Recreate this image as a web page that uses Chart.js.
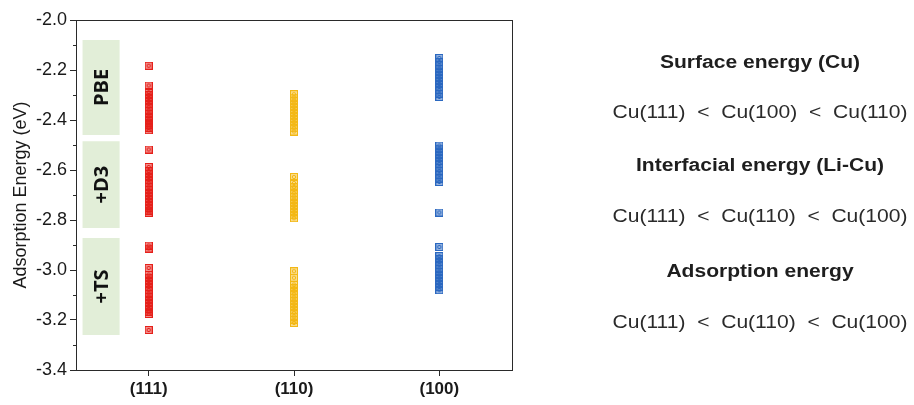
<!DOCTYPE html>
<html>
<head>
<meta charset="utf-8">
<script src="https://cdn.jsdelivr.net/npm/chart.js@4.4.1/dist/chart.umd.min.js"></script>
<style>
  html, body { margin: 0; padding: 0; background: #fff; }
  #wrap { position: relative; width: 914px; height: 405px; overflow: hidden; }
  #chart { position: absolute; left: 0; top: 0; }
  .note {
    position: absolute; left: 560px; width: 400px; text-align: center;
    font-family: "Liberation Sans", Arial, sans-serif; color: #1e1e1e;
    white-space: pre; line-height: 24px; height: 24px;
    transform: scaleX(1.17); transform-origin: 200px 50%;
  }
  .note.head { font-weight: bold; font-size: 18px; }
  .note.rank { font-size: 18px; color: #2a2a2a; }
</style>
</head>
<body>
<div id="wrap">
  <canvas id="chart" width="914" height="405"></canvas>
  <div class="note head" style="top:50px">Surface energy (Cu)</div>
  <div class="note rank" style="top:100px">Cu(111)  &lt;  Cu(100)  &lt;  Cu(110)</div>
  <div class="note head" style="top:153px">Interfacial energy (Li-Cu)</div>
  <div class="note rank" style="top:204px">Cu(111)  &lt;  Cu(110)  &lt;  Cu(100)</div>
  <div class="note head" style="top:259px">Adsorption energy</div>
  <div class="note rank" style="top:310px">Cu(111)  &lt;  Cu(110)  &lt;  Cu(100)</div>
</div>
<script>
// Facets on the x axis
const categories = ['(111)', '(110)', '(100)'];
// Functional labels shown in the green bands
const methods = ['PBE', '+D3', '+TS'];

// Adsorption energies (eV) per facet and functional
const pbe111 = [-2.183, -2.262, -2.289, -2.300, -2.312, -2.325, -2.337, -2.349, -2.362, -2.374, -2.386, -2.398, -2.410, -2.421, -2.432, -2.441];
const d3_111 = [-2.518, -2.588, -2.604, -2.615, -2.628, -2.641, -2.653, -2.666, -2.679, -2.691, -2.703, -2.716, -2.729, -2.741, -2.752, -2.763, -2.771];
const ts111  = [-2.902, -2.914, -2.992, -3.018, -3.031, -3.043, -3.056, -3.068, -3.081, -3.094, -3.106, -3.119, -3.131, -3.144, -3.156, -3.167, -3.176, -3.240];

const pbe110 = [-2.297, -2.310, -2.322, -2.334, -2.347, -2.360, -2.372, -2.385, -2.397, -2.409, -2.421, -2.433, -2.446];
const d3_110 = [-2.628, -2.652, -2.668, -2.680, -2.693, -2.706, -2.718, -2.731, -2.743, -2.756, -2.768, -2.781, -2.793];
const ts110  = [-3.005, -3.031, -3.058, -3.072, -3.085, -3.097, -3.110, -3.122, -3.135, -3.148, -3.160, -3.172, -3.186, -3.199, -3.212];

const pbe100 = [-2.152, -2.168, -2.182, -2.194, -2.206, -2.219, -2.231, -2.244, -2.256, -2.268, -2.281, -2.295, -2.308];
const d3_100 = [-2.502, -2.514, -2.526, -2.538, -2.551, -2.563, -2.576, -2.590, -2.604, -2.619, -2.634, -2.648, -2.770];
const ts100  = [-2.908, -2.945, -2.957, -2.969, -2.981, -2.994, -3.006, -3.018, -3.031, -3.043, -3.056, -3.068, -3.081];

// Axis range and tick step
const yMin = -3.4, yMax = -2.0, yStep = 0.2, yMinorStep = 0.1;

// Vertical extent of each functional's band (eV)
const bandTops    = [-2.08, -2.485, -2.872];
const bandBottoms = [-2.46, -2.832, -3.26];

const colors = ['#e5201a', '#f3b816', '#2b68c0'];

// Square marker with a small ring inside
function makeMarker(color) {
  const c = document.createElement('canvas');
  c.width = 8; c.height = 8;
  const g = c.getContext('2d');
  g.globalAlpha = 0.5;
  g.fillStyle = color;
  g.fillRect(0, 0, 8, 8);
  g.globalAlpha = 1;
  g.strokeStyle = color;
  g.lineWidth = 1;
  g.strokeRect(0.5, 0.5, 7, 7);
  g.beginPath();
  g.arc(4, 4, 1.7, 0, Math.PI * 2);
  g.stroke();
  return c;
}

function points(idx, arrays) {
  const out = [];
  arrays.forEach(a => a.forEach(v => out.push({ x: idx, y: v })));
  return out;
}

const series = [
  [pbe111, d3_111, ts111],
  [pbe110, d3_110, ts110],
  [pbe100, d3_100, ts100]
];

const datasets = series.map((arrs, i) => ({
  label: categories[i],
  data: points(i, arrs),
  pointStyle: makeMarker(colors[i]),
  pointRadius: 4,
  showLine: false
}));

const frameColor = '#2a2a2a';
const axisFont = '"Liberation Sans", Arial, sans-serif';

// Green bands with rotated functional names
const bandPlugin = {
  id: 'bands',
  beforeDatasetsDraw(chart) {
    const { ctx, scales: { x, y } } = chart;
    const x0 = x.getPixelForValue(-0.455);
    const x1 = x.getPixelForValue(-0.2);
    ctx.save();
    methods.forEach((m, i) => {
      const t = y.getPixelForValue(bandTops[i]);
      const b = y.getPixelForValue(bandBottoms[i]);
      ctx.fillStyle = '#e2eed8';
      ctx.fillRect(x0, t, x1 - x0, b - t);
      ctx.save();
      ctx.translate((x0 + x1) / 2, (t + b) / 2);
      ctx.rotate(-Math.PI / 2);
      ctx.fillStyle = '#111';
      ctx.font = 'bold 20px "Open Sans", "Noto Sans", sans-serif';
      ctx.textAlign = 'center';
      ctx.textBaseline = 'middle';
      ctx.fillText(m, 0, 1);
      ctx.restore();
    });
    ctx.restore();
  }
};

// Plot frame and minor y ticks
const framePlugin = {
  id: 'frame',
  afterDatasetsDraw(chart) {
    const { ctx, chartArea: a, scales: { y } } = chart;
    ctx.save();
    ctx.strokeStyle = frameColor;
    ctx.lineWidth = 1;
    ctx.strokeRect(Math.round(a.left) + 0.5, Math.round(a.top) + 0.5,
                   Math.round(a.right - a.left), Math.round(a.bottom - a.top));
    ctx.beginPath();
    for (let v = yMin + yMinorStep; v < yMax; v += yStep) {
      const py = Math.round(y.getPixelForValue(v)) + 0.5;
      ctx.moveTo(Math.round(a.left) - 3, py);
      ctx.lineTo(Math.round(a.left), py);
    }
    ctx.stroke();
    ctx.restore();
  }
};

new Chart(document.getElementById('chart'), {
  type: 'scatter',
  data: { datasets },
  plugins: [bandPlugin, framePlugin],
  options: {
    responsive: false,
    animation: false,
    events: [],
    layout: { padding: { top: 20, right: 402, left: 0, bottom: 0 } },
    plugins: { legend: { display: false }, tooltip: { enabled: false } },
    scales: {
      x: {
        type: 'linear',
        min: -0.5, max: 2.5,
        afterFit(s) { s.height = 35; },
        afterBuildTicks(s) { s.ticks = categories.map((_, i) => ({ value: i })); },
        grid: { drawOnChartArea: false, tickLength: 6, tickColor: frameColor, color: frameColor },
        border: { display: false },
        ticks: {
          padding: 3,
          color: '#1a1a1a',
          font: { family: axisFont, size: 17, weight: 'bold' },
          callback: v => categories[v]
        }
      },
      y: {
        min: yMin, max: yMax,
        afterFit(s) { s.width = 76; },
        grid: { drawOnChartArea: false, tickLength: 6, tickColor: frameColor, color: frameColor },
        border: { display: false },
        ticks: {
          stepSize: yStep,
          padding: 3,
          color: '#1a1a1a',
          font: { family: axisFont, size: 18 },
          callback: v => Number(v).toFixed(1)
        },
        title: {
          display: true,
          text: 'Adsorption Energy (eV)',
          color: '#1a1a1a',
          padding: { top: 10, bottom: 0 },
          font: { family: axisFont, size: 18 }
        }
      }
    }
  }
});
</script>
</body>
</html>
